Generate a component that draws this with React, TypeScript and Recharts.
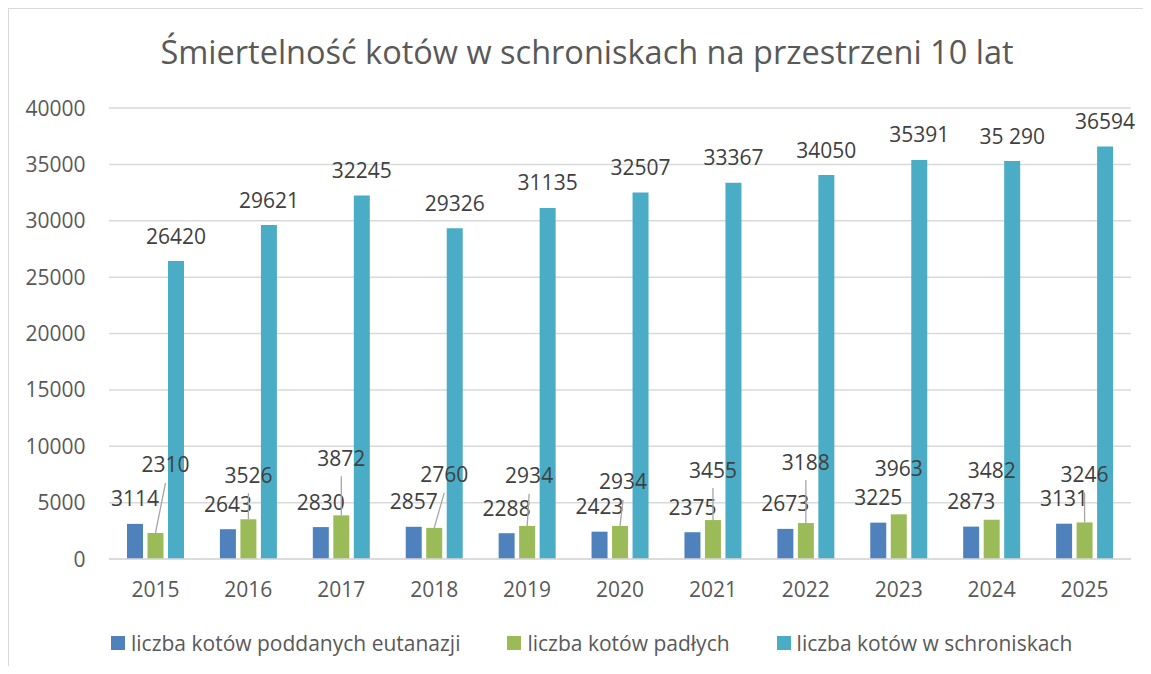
import { BarChart, Bar, XAxis, YAxis, CartesianGrid, Legend, LabelList } from 'recharts';

const years = ['2015', '2016', '2017', '2018', '2019', '2020', '2021', '2022', '2023', '2024', '2025'];
const euthanized = [3114, 2643, 2830, 2857, 2288, 2423, 2375, 2673, 3225, 2873, 3131];
const died = [2310, 3526, 3872, 2760, 2934, 2934, 3455, 3188, 3963, 3482, 3246];
const inShelters = [26420, 29621, 32245, 29326, 31135, 32507, 33367, 34050, 35391, 35290, 36594];
const shelterLabels = ['26420', '29621', '32245', '29326', '31135', '32507', '33367', '34050', '35391', '35 290', '36594'];
const yTicks = [0, 5000, 10000, 15000, 20000, 25000, 30000, 35000, 40000];

// where the green labels were dragged to in the original (px above bar top / px to the right)
const diedLabelLift = [68, 44, 57, 53, 50, 44, 50, 61, 46, 49, 48];
const diedLabelShift = [10, 0, 0, 10, 2, 3, 0, 0, 0, 0, 0];
const diedLeader = [true, true, true, true, true, true, true, true, false, false, true];

const data = years.map((year, i) => ({
  year,
  euthanized: euthanized[i],
  died: died[i],
  shelters: inShelters[i],
  shelterLabel: shelterLabels[i],
}));

const FONT = '"Open Sans", sans-serif';
const BLUE = '#4F81BD';
const GREEN = '#9BBB59';
const TEAL = '#4BACC6';
const GRID = '#d9d9d9';
const TICK = '#595959';
const LABEL = '#404040';
const FS = 21;

const TopLabel = (props: any) => {
  const x = Number(props.x);
  const y = Number(props.y);
  const w = Number(props.width);
  return (
    <text x={x + w / 2} y={y - 25 + 7.5} textAnchor="middle" fontSize={FS} fill={LABEL} fontFamily={FONT}>
      {props.value}
    </text>
  );
};

const DiedLabel = (props: any) => {
  const x = Number(props.x);
  const y = Number(props.y);
  const w = Number(props.width);
  const i = props.index;
  const cx = x + w / 2;
  const ly = y - diedLabelLift[i];
  const lx = cx + diedLabelShift[i];
  return (
    <g>
      {diedLeader[i] && <line x1={cx} y1={y} x2={lx} y2={ly + 18} stroke="#a6a6a6" strokeWidth={1.3} />}
      <text x={lx} y={ly + 7.5} textAnchor="middle" fontSize={FS} fill={LABEL} fontFamily={FONT}>
        {props.value}
      </text>
    </g>
  );
};

const XTick = ({ x, y, payload }: any) => (
  <text x={x} y={y + 38} textAnchor="middle" fontSize={FS} fill={TICK} fontFamily={FONT}>
    {payload.value}
  </text>
);

const YTick = ({ x, y, payload }: any) => (
  <text x={x - 23.5} y={y + 7.5} textAnchor="end" fontSize={FS} fill={TICK} fontFamily={FONT}>
    {payload.value}
  </text>
);

const legendItems = [
  { name: 'liczba kotów poddanych eutanazji', color: BLUE },
  { name: 'liczba kotów padłych', color: GREEN },
  { name: 'liczba kotów w schroniskach', color: TEAL },
];

const LegendContent = () => (
  <div style={{ height: 30, display: 'flex', alignItems: 'center', paddingLeft: 102, fontFamily: FONT }}>
    {legendItems.map((it) => (
      <div key={it.name} style={{ display: 'flex', alignItems: 'center', marginRight: 47 }}>
        <span style={{ width: 14, height: 14, background: it.color, marginRight: 6, display: 'inline-block' }} />
        <span style={{ fontSize: FS, color: TICK, whiteSpace: 'nowrap' }}>{it.name}</span>
      </div>
    ))}
  </div>
);

export default function App() {
  return (
    <div
      style={{
        width: 1134,
        height: 657,
        borderLeft: `1px solid ${GRID}`,
        borderTop: `1px solid ${GRID}`,
        position: 'relative',
        overflow: 'hidden',
        background: '#fff',
      }}
    >
      <div
        style={{
          position: 'absolute',
          top: 27,
          left: -22,
          width: 1200,
          textAlign: 'center',
          fontFamily: FONT,
          fontSize: 32.5,
          lineHeight: '32.5px',
          color: TICK,
          whiteSpace: 'nowrap',
        }}
      >
        Śmiertelność kotów w schroniskach na przestrzeni 10 lat
      </div>
      <BarChart
        width={1134}
        height={657}
        data={data}
        margin={{ top: 99, right: 12, bottom: 17, left: 0 }}
        barSize={16}
        barGap={4.5}
      >
        <CartesianGrid vertical={false} stroke={GRID} strokeWidth={1.5} />
        <XAxis
          dataKey="year"
          height={60}
          axisLine={{ stroke: GRID, strokeWidth: 1.5 }}
          tickLine={false}
          tickSize={0}
          tickMargin={0}
          tick={<XTick />}
        />
        <YAxis
          width={100}
          domain={[0, 40000]}
          ticks={yTicks}
          axisLine={false}
          tickLine={false}
          tickSize={0}
          tickMargin={0}
          tick={<YTick />}
        />
        <Legend verticalAlign="bottom" content={<LegendContent />} wrapperStyle={{ top: 619, left: 0, width: 1134 }} />
        <Bar dataKey="euthanized" name="liczba kotów poddanych eutanazji" fill={BLUE} isAnimationActive={false}>
          <LabelList dataKey="euthanized" content={<TopLabel />} />
        </Bar>
        <Bar dataKey="died" name="liczba kotów padłych" fill={GREEN} isAnimationActive={false}>
          <LabelList dataKey="died" content={<DiedLabel />} />
        </Bar>
        <Bar dataKey="shelters" name="liczba kotów w schroniskach" fill={TEAL} isAnimationActive={false}>
          <LabelList dataKey="shelterLabel" content={<TopLabel />} />
        </Bar>
      </BarChart>
    </div>
  );
}
